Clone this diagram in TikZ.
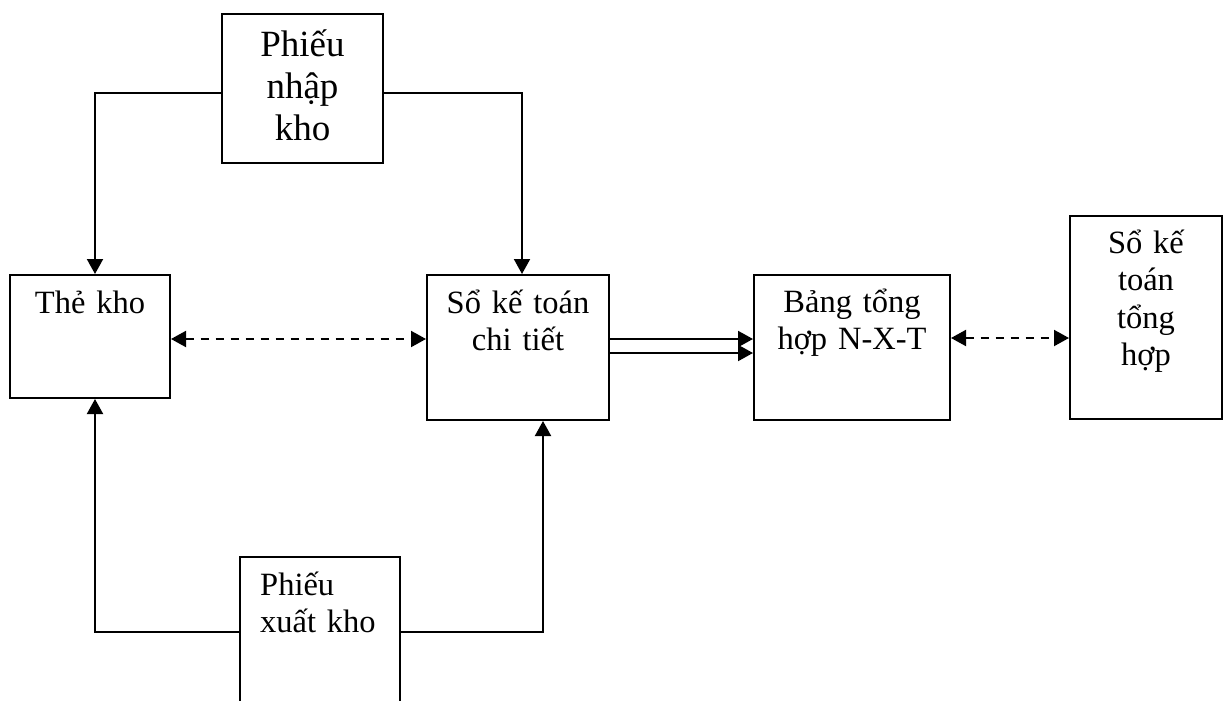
\documentclass[tikz,border=0pt]{standalone}
\usepackage{fontspec}
\setmainfont{Liberation Serif}
\usetikzlibrary{arrows.meta,calc}
\begin{document}
\begin{tikzpicture}[x=1pt,y=-1pt,
  box/.style={draw, line width=2pt, inner sep=0pt},
  lbl/.style={inner sep=0pt, align=center, font=\fontsize{32.5}{37.5}\selectfont},
  tip/.style={Triangle[length=15pt,width=16pt]},
  flow/.style={line width=2pt, -{Triangle[length=15pt,width=16pt]}},
  link/.style={line width=2pt, dash pattern=on 8pt off 7pt,
    {Triangle[length=15pt,width=16pt]}-{Triangle[length=15pt,width=16pt]}}]
  \clip (0,0) rectangle (1229,701);

  % boxes
  \node[box, minimum width=161pt, minimum height=149pt] (pnk) at (302.5,88.5) {};
  \node[box, minimum width=160pt, minimum height=123pt] (tk) at (90,336.5) {};
  \node[box, minimum width=182pt, minimum height=145pt] (sct) at (518,347.5) {};
  \node[box, minimum width=196pt, minimum height=145pt] (bth) at (852,347.5) {};
  \node[box, minimum width=152pt, minimum height=203pt] (sth) at (1146,317.5) {};
  \node[box, minimum width=160pt, minimum height=204pt, anchor=north west] (pxk) at (239,556) {};

  % box texts
  \node[lbl, anchor=base, font=\fontsize{37}{42}\selectfont, text width=150pt]
    at ($(pnk.north)+(0,44)$) {Phiếu\\nhập\\kho};
  \node[lbl, anchor=base, text width=150pt] at ($(tk.north)+(0,39)$) {Thẻ kho};
  \node[lbl, anchor=base, text width=175pt] at ($(sct.north)+(0,39)$) {Sổ kế toán\\chi tiết};
  \node[lbl, anchor=base, text width=190pt] at ($(bth.north)+(0,38)$) {Bảng tổng\\hợp N-X-T};
  \node[lbl, anchor=base, text width=145pt] at ($(sth.north)+(0,38)$) {Sổ kế\\toán\\tổng\\hợp};
  \node[lbl, anchor=base west, align=left, text width=150pt]
    at ($(pxk.north west)+(21,39)$) {Phiếu\\xuất kho};

  % receipts and issues feed both ledgers
  \draw[flow] ([yshift=-4.5pt]pnk.west) -| ([xshift=5pt]tk.north);
  \draw[flow] ([yshift=-4.5pt]pnk.east) -| ([xshift=4pt]sct.north);
  \draw[flow] ([yshift=-76pt]pxk.north west) -| ([xshift=5pt]tk.south);
  \draw[flow] ([yshift=-76pt]pxk.north east) -| ([xshift=25pt]sct.south);

  % reconciliation links
  \draw[link] (tk.east |- 0,339) -- (sct.west |- 0,339);
  \draw[link] (bth.east |- 0,338) -- (sth.west |- 0,338);

  % double transfer to the summary table
  \draw[flow] (sct.east |- 0,339) -- (bth.west |- 0,339);
  \draw[flow] (sct.east |- 0,353) -- (bth.west |- 0,353);
\end{tikzpicture}
\end{document}
